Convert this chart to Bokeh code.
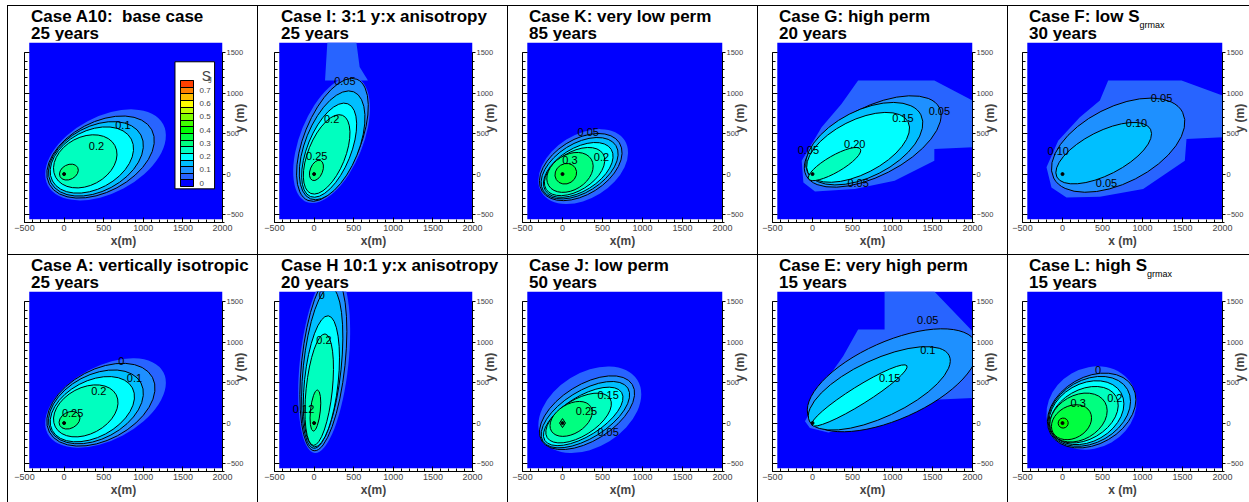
import math
from bokeh.plotting import figure
from bokeh.models import (Range1d, LinearAxis, FixedTicker, Label, ColorBar, Div, BoxAnnotation,
                          LinearColorMapper, ColumnDataSource, CustomJSTickFormatter)
from bokeh.layouts import row, column
from bokeh.core.properties import value
from bokeh.embed import file_html
from bokeh.resources import INLINE

# ---------------- data ----------------
band_colors = ["#0000FF", "#2864FF", "#1E90FF", "#00BFFF", "#00FFFF", "#00FFBF",
               "#00FF80", "#00FF40", "#00FF00", "#40FF00", "#80FF00", "#BFFF00",
               "#FFFF00", "#FFBF00", "#FF8000", "#FF4000"]
legend_ticks = [0, 0.1, 0.2, 0.3, 0.4, 0.5, 0.6, 0.7]
legend_bounds = [-0.025, 0.025, 0.075, 0.125, 0.175, 0.225, 0.275, 0.325, 0.375,
                 0.425, 0.475, 0.525, 0.575, 0.625, 0.675, 0.725, 0.775]
x_ticks = [-500, 0, 500, 1000, 1500, 2000]
x_minor = list(range(-500, 2001, 100))
y_ticks = [-500, 0, 500, 1000, 1500]
y_minor = list(range(-600, 1501, 100))
domain_x = [-440, 2000]
domain_y = [-560, 1630]
injection_x = [0]
injection_y = [0]

case_titles = ["Case A10:&nbsp; base case", "Case I: 3:1 y:x anisotropy", "Case K: very low perm",
               "Case G: high perm", "Case F: low S",
               "Case A: vertically isotropic", "Case H 10:1 y:x anisotropy", "Case J: low perm",
               "Case E: very high perm", "Case L: high S"]
case_subscripts = ["", "", "", "", "grmax", "", "", "", "", "grmax"]
case_years = ["25 years", "25 years", "85 years", "20 years", "30 years",
              "25 years", "20 years", "50 years", "15 years", "15 years"]
x_titles = ["x(m)", "x(m)", "x(m)", "x(m)", "x (m)", "x(m)", "x(m)", "x(m)", "x(m)", "x (m)"]

# contour levels: (band, xmin, xmax, ymin, ymax, tilt_deg) in metres
levels_A10 = [(1, -238, 1284, -331, 807, 28), (2, -217, 1138, -302, 724, 28),
              (3, -196, 1000, -277, 654, 28), (4, -175, 876, -240, 588, 28),
              (5, -133, 667, -174, 489, 28), (6, -58, 179, -75, 124, 28)]
labels_A10 = [("0.1", 742, 613), ("0.2", 409, 344)]

levels_I = [(1, -259, 700, -373, 1221, 68), (2, -217, 680, -352, 1200, 68),
            (3, -183, 638, -331, 1043, 68), (4, -154, 534, -298, 890, 68),
            (5, -133, 450, -257, 745, 68), (6, -58, 117, -83, 174, 68)]
halo_I_x = [167, 534, 575, 680, 138]
halo_I_y = [1630, 1630, 1325, 1159, 1159]
labels_I = [("0.05", 388, 1159), ("0.2", 221, 683), ("0.25", 33, 228)]

levels_K = [(1, -301, 819, -373, 559, 32), (2, -288, 744, -331, 505, 32),
            (3, -267, 695, -310, 455, 32), (4, -238, 632, -290, 393, 32),
            (5, -226, 528, -269, 331, 32), (6, -196, 383, -228, 269, 32),
            (7, -94, 176, -124, 132, 32)]
labels_K = [("0.05", 322, 526), ("0.2", 487, 207), ("0.3", 93, 174)]

levels_G = [(2, -102, 1607, -166, 973, 27), (3, -85, 1379, -137, 890, 27),
            (4, -73, 1213, -104, 766, 27), (5, -52, 603, -83, 331, 30)]
halo_G_x = [570, 1523, 2000, 2000, 1523, 1523, 1026, 528, 31, -114, -135, 114, 362]
halo_G_y = [1159, 1159, 911, 331, 311, 166, -83, -186, -215, -104, 166, 580, 869]
labels_G = [("0.05", 1586, 787), ("0.15", 1130, 696), ("0.20", 528, 373),
            ("0.05", 570, -116), ("0.05", -52, 298)]

levels_F = [(2, -138, 1529, -228, 944, 27), (3, -83, 1113, -124, 642, 27)]
halo_F_x = [571, 1488, 2000, 2000, 1550, 1529, 1008, 467, 50, -138, -200, -54, 217, 467]
halo_F_y = [1159, 1159, 973, 455, 435, 166, -186, -282, -290, -166, 83, 414, 704, 911]
labels_F = [("0.05", 1238, 940), ("0.10", 925, 629), ("0.10", -54, 290), ("0.05", 550, -116)]

levels_A = [(1, -238, 1284, -310, 807, 28), (2, -217, 1147, -290, 745, 28),
            (3, -196, 1000, -261, 662, 28), (4, -175, 888, -236, 580, 28),
            (5, -133, 680, -174, 476, 28), (6, -63, 200, -75, 145, 28)]
labels_A = [("0", 721, 766), ("0.1", 888, 559), ("0.2", 438, 393), ("0.25", 108, 124)]

levels_H = [(1, -196, 450, -393, 1900, 84), (2, -175, 409, -364, 1850, 84),
            (3, -154, 359, -331, 1700, 84), (4, -133, 317, -310, 1345, 84),
            (5, -113, 242, -290, 1118, 84), (6, -50, 83, -104, 414, 84)]
labels_H = [("0", 96, 1590), ("0.2", 125, 1027), ("0.12", -133, 174)]

levels_J = [(1, -301, 984, -373, 704, 32), (2, -288, 901, -331, 588, 32),
            (3, -267, 839, -310, 518, 32), (4, -238, 756, -282, 447, 32),
            (5, -209, 611, -248, 373, 32), (6, -156, 371, -166, 269, 32)]
labels_J = [("0.15", 570, 352), ("0.25", 300, 153), ("0.05", 570, -116)]

levels_E = [(2, -65, 2065, -111, 1171, 24), (3, -52, 1722, -90, 950, 25),
            (4, -11, 1183, -41, 725, 32)]
halo_E_x = [901, 1523, 2000, 2000, 1523, 943, 197, -32, -94, 10, 176, 383, 570, 901]
halo_E_y = [1630, 1630, 1139, 311, 290, 41, -116, -62, 21, 207, 538, 828, 1159, 1159]
labels_E = [("0.05", 1441, 1275), ("0.1", 1441, 911), ("0.15", 964, 559)]

levels_L = [(1, -200, 925, -331, 704, 30), (2, -188, 917, -310, 621, 30),
            (3, -179, 850, -290, 580, 30), (4, -167, 767, -269, 526, 30),
            (5, -158, 696, -248, 455, 30), (6, -158, 558, -236, 373, 30),
            (7, -138, 363, -207, 228, 30), (8, -54, 71, -62, 62, 30)]
labels_L = [("0", 446, 662), ("0.2", 654, 311), ("0.3", 196, 248)]

panel_levels = [levels_A10, levels_I, levels_K, levels_G, levels_F,
                levels_A, levels_H, levels_J, levels_E, levels_L]
panel_labels = [labels_A10, labels_I, labels_K, labels_G, labels_F,
                labels_A, labels_H, labels_J, labels_E, labels_L]
panel_halos = [None, (halo_I_x, halo_I_y), None, (halo_G_x, halo_G_y), (halo_F_x, halo_F_y),
               None, None, None, (halo_E_x, halo_E_y), None]
diamond_panels = [7]


def ellipse_from_box(x0, x1, y0, y1, ang_deg):
    t = math.radians(ang_deg)
    c, s = math.cos(t) ** 2, math.sin(t) ** 2
    hx, hy = (x1 - x0) / 2.0, (y1 - y0) / 2.0
    a2 = (hx * hx * c - hy * hy * s) / (c - s)
    b2 = (hy * hy * c - hx * hx * s) / (c - s)
    return (x0 + x1) / 2.0, (y0 + y1) / 2.0, 2 * math.sqrt(max(a2, 25)), 2 * math.sqrt(max(b2, 25)), t


FONT = "Liberation Sans"
col_left = [16, 16, 14, 14, 14]
TITLE_H = 34


def build_cell(i):
    col = i % 5
    left = col_left[col]
    p = figure(width=249, height=248 - TITLE_H, x_range=Range1d(-500, 2000), y_range=Range1d(-600, 1630),
               output_backend="svg", toolbar_location=None, tools="",
               min_border_left=left, min_border_right=249 - left - 200,
               min_border_top=2, min_border_bottom=32)
    p.background_fill_color = "white"
    p.border_fill_color = "white"
    p.outline_line_color = None
    p.grid.visible = False

    # bottom axis
    xa = p.xaxis[0]
    xa.ticker = FixedTicker(ticks=x_ticks, minor_ticks=x_minor)
    xa.major_tick_in = 5
    xa.major_tick_out = 0
    xa.minor_tick_in = 3
    xa.minor_tick_out = 0
    xa.major_label_text_font = FONT
    xa.major_label_text_font_size = "9px"
    xa.major_label_standoff = 2
    xa.axis_label = x_titles[i]
    xa.axis_label_text_font = FONT
    xa.axis_label_text_font_size = "12px"
    xa.axis_label_text_font_style = "bold"
    xa.axis_label_standoff = 0

    # left axis (ticks only)
    ya = p.yaxis[0]
    ya.ticker = FixedTicker(ticks=y_ticks, minor_ticks=y_minor)
    ya.bounds = (-600, 1500)
    ya.major_tick_in = 5
    ya.major_tick_out = 0
    ya.minor_tick_in = 3
    ya.minor_tick_out = 0
    ya.formatter = CustomJSTickFormatter(code="return ''")
    ya.major_label_standoff = 0

    # right axis
    ra = LinearAxis(ticker=FixedTicker(ticks=y_ticks, minor_ticks=y_minor), bounds=(-600, 1500),
                    major_tick_in=0, major_tick_out=3, minor_tick_in=0, minor_tick_out=2,
                    major_label_text_font=FONT, major_label_text_font_size="7.5px",
                    major_label_standoff=1, axis_label="y (m)", axis_label_text_font=FONT,
                    axis_label_text_font_size="12px", axis_label_text_font_style="bold",
                    axis_label_standoff=-6, axis_label_orientation=math.pi / 2)
    p.add_layout(ra, "right")

    # background field
    p.quad(left=[domain_x[0]], right=[domain_x[1]], bottom=[domain_y[0]], top=[domain_y[1]],
           fill_color=band_colors[0], line_color=None)

    halo = panel_halos[i]
    if halo is not None:
        p.patch(halo[0], halo[1], fill_color=band_colors[1], line_color=None)

    cx, cy, w, h, ang, fc, la = [], [], [], [], [], [], []
    for (band, x0, x1, y0, y1, t) in panel_levels[i]:
        ex, ey, ew, eh, et = ellipse_from_box(x0, x1, y0, y1, t)
        cx.append(ex); cy.append(ey); w.append(ew); h.append(eh); ang.append(et)
        fc.append(band_colors[band]); la.append(0.0 if band == 1 else 1.0)
    src = ColumnDataSource(dict(x=cx, y=cy, w=w, h=h, a=ang, fc=fc, la=la))
    p.ellipse(x="x", y="y", width="w", height="h", angle="a", fill_color="fc",
              line_color="black", line_alpha="la", line_width=1, source=src)

    lt = [t[0] for t in panel_labels[i]]
    lx = [t[1] for t in panel_labels[i]]
    ly = [t[2] for t in panel_labels[i]]
    p.text(x=lx, y=ly, text=lt, text_font=value(FONT), text_font_size="11px",
           text_align="center", text_baseline="middle", text_color="black")

    if i in diamond_panels:
        p.scatter(injection_x, injection_y, marker="diamond", size=9, fill_color=None,
                  line_color="black", line_width=1)
    p.scatter(injection_x, injection_y, marker="circle", size=3, color="black")

    if i == 0:
        p.add_layout(BoxAnnotation(left=1400, right=1900, bottom=-183, top=1391,
                                   fill_color="white", fill_alpha=1.0,
                                   line_color="black", line_width=1, line_alpha=1.0))
        mapper = LinearColorMapper(palette=band_colors, low=legend_bounds[0], high=legend_bounds[-1])
        cb = ColorBar(color_mapper=mapper, orientation="vertical", width=13, height=106,
                      ticker=FixedTicker(ticks=legend_ticks, minor_ticks=legend_bounds),
                      major_tick_line_color=None, minor_tick_in=13, minor_tick_out=0,
                      minor_tick_line_color="black", bar_line_color="black",
                      border_line_color=None, background_fill_alpha=0.0,
                      major_label_text_font=FONT, major_label_text_font_size="8px",
                      label_standoff=6, padding=3, margin=0, title=None,
                      location=(153, 33))
        p.add_layout(cb, "center")
        p.add_layout(Label(x=1737, y=1217, text="S", text_font=FONT, text_font_size="14px",
                           text_baseline="alphabetic"))
        p.add_layout(Label(x=1815, y=1190, text="g", text_font=FONT, text_font_size="7px",
                           text_baseline="alphabetic"))

    sub = ""
    if case_subscripts[i]:
        sub = ('<span style="font-size:9px;font-weight:normal;vertical-align:-6px;'
               'line-height:0">' + case_subscripts[i] + '</span>')
    html = case_titles[i] + sub + "<br>" + case_years[i]
    d = Div(text=html, width=249, height=TITLE_H, margin=0,
            styles={"font-family": FONT, "font-size": "17px", "font-weight": "bold",
                    "line-height": "17px", "color": "black", "padding-left": str(left + 7) + "px",
                    "padding-top": "2px", "box-sizing": "border-box", "overflow": "visible",
                    "white-space": "nowrap"})
    return column(d, p, spacing=0,
                  styles={"border-left": "1px solid black", "border-top": "1px solid black"})


cells = [build_cell(i) for i in range(10)]
layout = column(row(*cells[:5], spacing=0), row(*cells[5:], spacing=0), spacing=0,
                margin=(5, 0, 0, 7))

with open("out.html", "w") as f:
    f.write(file_html(layout, INLINE))
